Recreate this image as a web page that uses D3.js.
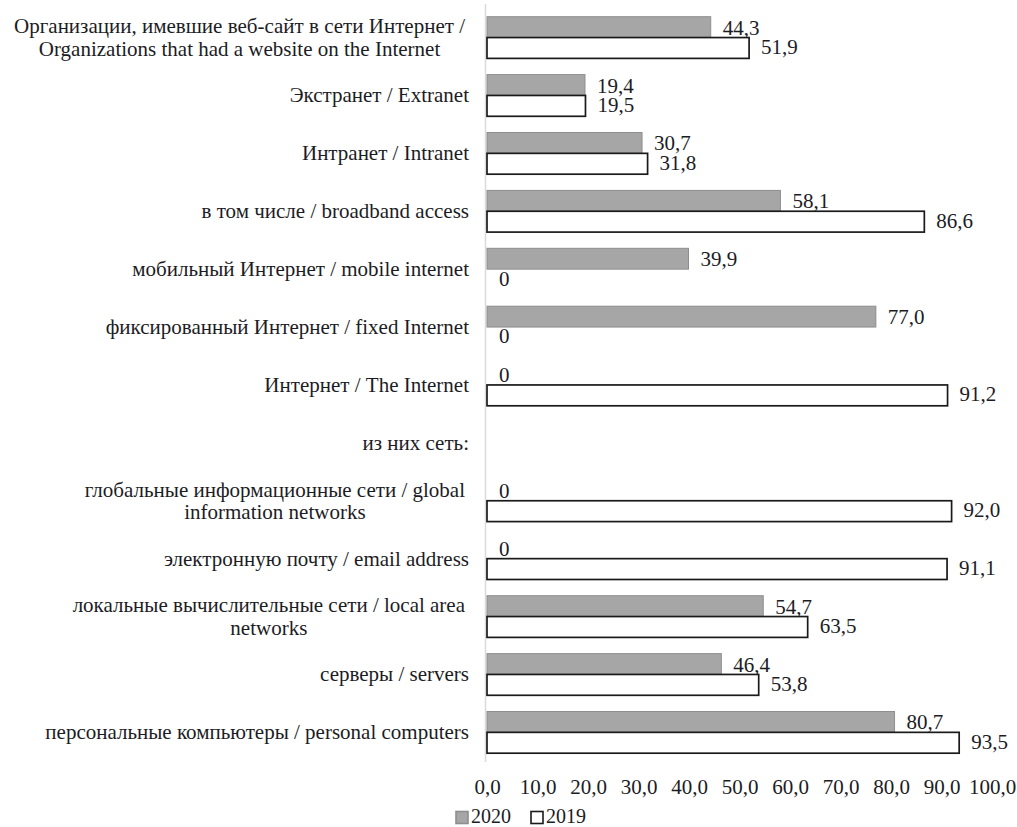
<!DOCTYPE html>
<html>
<head>
<meta charset="utf-8">
<script src="https://cdn.jsdelivr.net/npm/d3@7"></script>
<style>
  html, body { margin: 0; padding: 0; background: #fff; }
  svg text { font-family: "Liberation Serif", "Times New Roman", serif; fill: #1c1c24; }
</style>
</head>
<body>
<svg id="chart" width="1017" height="827" font-family="Liberation Serif"></svg>
<script>
// Categories, top to bottom; each entry is an array of label lines
const categories = [
  ["Организации, имевшие веб-сайт в сети Интернет /", "Organizations that had a website on the Internet"],
  ["Экстранет / Extranet"],
  ["Интранет / Intranet"],
  ["в том числе  / broadband access"],
  ["мобильный Интернет / mobile internet"],
  ["фиксированный  Интернет / fixed Internet"],
  ["Интернет / The Internet"],
  ["из них сеть:"],
  ["глобальные информационные сети / global", "information networks"],
  ["электронную почту / email address"],
  ["локальные вычислительные сети / local area", "networks"],
  ["серверы / servers"],
  ["персональные компьютеры / personal computers"]
];

const seriesNames = ["2020", "2019"];
const values2020 = [44.3, 19.4, 30.7, 58.1, 39.9, 77.0, 0, null, 0, 0, 54.7, 46.4, 80.7];
const values2019 = [51.9, 19.5, 31.8, 86.6, 0, 0, 91.2, null, 92.0, 91.1, 63.5, 53.8, 93.5];
const xTicks = [0, 10, 20, 30, 40, 50, 60, 70, 80, 90, 100];

const FONT = 21;
const svg = d3.select("#chart");
const keys = categories.map((c, i) => "c" + i);

const x = d3.scaleLinear().domain([0, 100]).range([487, 992]);
const y = d3.scaleBand().domain(keys).range([8.6, 761.3]).paddingInner(0.28).paddingOuter(0.14);
const ySub = d3.scaleBand().domain(seriesNames).range([0, y.bandwidth()]);

const fmt = v => v === 0 ? "0" : d3.format(".1f")(v).replace(".", ",");

// vertical category axis line
svg.append("line")
  .attr("x1", x(0) - 1.5).attr("x2", x(0) - 1.5)
  .attr("y1", 4).attr("y2", 762)
  .attr("stroke", "#dadada").attr("stroke-width", 1.5);

// category labels (wrapped labels: lines centred within a right-aligned block)
const labelRight = 469;
const lineH = 22.5;
const catG = svg.append("g");
categories.forEach((lines, i) => {
  const cy = y(keys[i]) + y.bandwidth() / 2;
  const t = catG.append("text")
    .attr("font-size", FONT)
    .attr("dominant-baseline", "central");
  if (lines.length === 1) {
    t.attr("x", labelRight).attr("y", cy).attr("text-anchor", "end").text(lines[0]);
  } else {
    t.attr("text-anchor", "middle");
    const spans = lines.map((ln, j) =>
      t.append("tspan").attr("x", 0).attr("y", cy + (j - (lines.length - 1) / 2) * lineH).text(ln));
    const w = d3.max(spans, s => s.node().getComputedTextLength());
    spans.forEach(s => s.attr("x", labelRight - 4 - w / 2));
  }
});

const rows2020 = values2020.map((v, i) => ({ key: keys[i], v })).filter(d => d.v !== null);
const rows2019 = values2019.map((v, i) => ({ key: keys[i], v })).filter(d => d.v !== null);

// 2020 bars
svg.append("g").selectAll("rect").data(rows2020.filter(d => d.v > 0)).join("rect")
  .attr("x", x(0))
  .attr("y", d => y(d.key) + ySub("2020"))
  .attr("width", d => x(d.v) - x(0))
  .attr("height", ySub.bandwidth())
  .attr("fill", "#a6a6a6").attr("stroke", "#8e8e8e").attr("stroke-width", 1);

// 2020 value labels
svg.append("g").selectAll("text").data(rows2020).join("text")
  .attr("x", d => x(d.v) + 12)
  .attr("y", d => y(d.key) + ySub("2020") + ySub.bandwidth() / 2 + 0.5)
  .attr("dominant-baseline", "central")
  .attr("font-size", FONT)
  .text(d => fmt(d.v));

// 2019 bars
svg.append("g").selectAll("rect").data(rows2019.filter(d => d.v > 0)).join("rect")
  .attr("x", x(0))
  .attr("y", d => y(d.key) + ySub("2019"))
  .attr("width", d => x(d.v) - x(0))
  .attr("height", ySub.bandwidth())
  .attr("fill", "#fff").attr("stroke", "#1a1a1a").attr("stroke-width", 1.7);

// 2019 value labels
svg.append("g").selectAll("text").data(rows2019).join("text")
  .attr("x", d => x(d.v) + 12)
  .attr("y", d => y(d.key) + ySub("2019") + ySub.bandwidth() / 2 - 1)
  .attr("dominant-baseline", "central")
  .attr("font-size", FONT)
  .text(d => fmt(d.v));

// value axis
const xAxis = d3.axisBottom(x).tickValues(xTicks).tickSize(0)
  .tickFormat(d => d3.format(".1f")(d).replace(".", ","));
const axG = svg.append("g").attr("transform", "translate(0,761)").call(xAxis);
axG.select(".domain").remove();
axG.attr("font-family", null).attr("font-size", null);
axG.selectAll("text")
  .attr("y", 26).attr("dy", null)
  .attr("dominant-baseline", "central")
  .attr("font-size", FONT).attr("fill", null);

// legend
const legend = svg.append("g").attr("transform", "translate(455,817)");
const legendItems = [
  { name: "2020", fill: "#a6a6a6", stroke: "#8e8e8e", dx: 0 },
  { name: "2019", fill: "#fff", stroke: "#1a1a1a", dx: 75 }
];
legendItems.forEach(it => {
  const g = legend.append("g").attr("transform", `translate(${it.dx},0)`);
  g.append("rect").attr("x", 1).attr("y", -5.5).attr("width", 12).attr("height", 12)
    .attr("fill", it.fill).attr("stroke", it.stroke).attr("stroke-width", 1.6);
  g.append("text").attr("x", 16).attr("y", 5.5)
    .attr("font-size", 20).text(it.name);
});
</script>
</body>
</html>
